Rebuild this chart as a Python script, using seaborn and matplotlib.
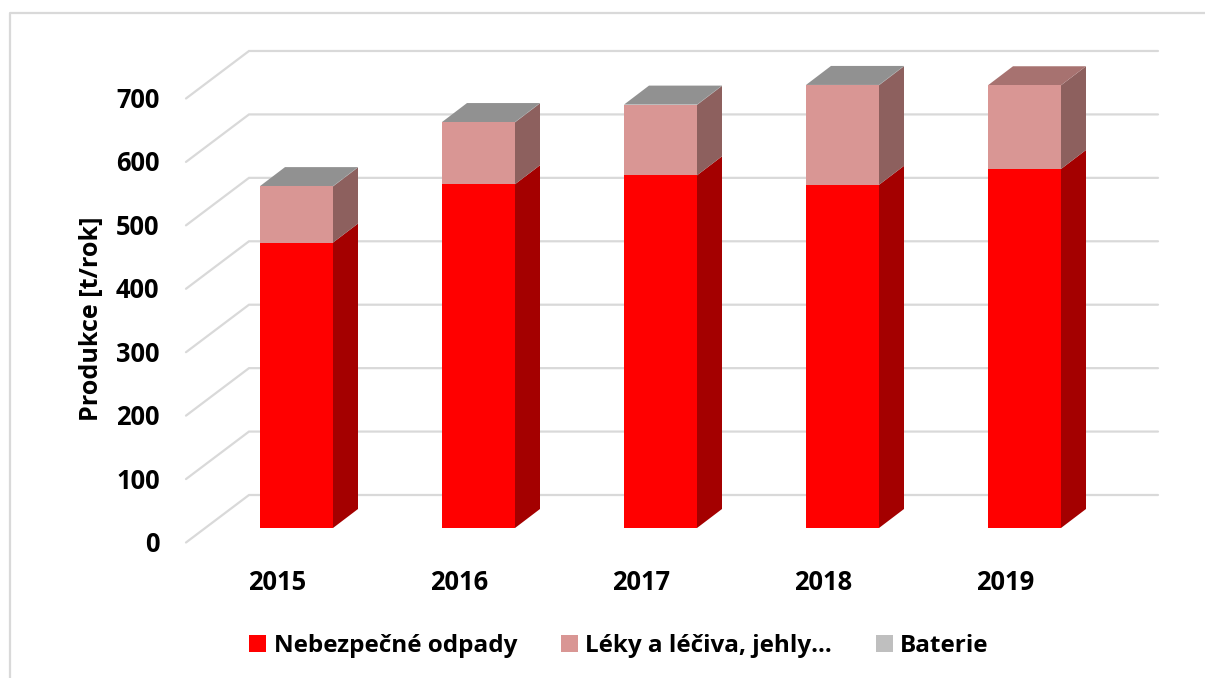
import numpy as np
import matplotlib
matplotlib.use('Agg')
import matplotlib.pyplot as plt
from matplotlib.lines import Line2D
from matplotlib.transforms import ScaledTranslation
import seaborn as sns

sns.set_style('white')
plt.rcParams['font.family'] = ['Open Sans', 'DejaVu Sans']
plt.rcParams['font.weight'] = 'bold'

years = ['2015', '2016', '2017', '2018', '2019']
nebezpecne = [450, 542, 556, 541, 566]
leky = [88.5, 97.5, 111, 157, 132]
baterie = [0.5, 0.5, 0.5, 0.5, 0]
y_ticks = [0, 100, 200, 300, 400, 500, 600, 700]

series_names = ['Nebezpečné odpady', 'Léky a léčiva, jehly…', 'Baterie']
series_values = [nebezpecne, leky, baterie]
front_colors = ['#ff0000', '#d99694', '#bfbfbf']
side_colors = ['#a40000', '#8d605e', '#7f7f7f']
top_colors = ['#c00000', '#a77270', '#919191']

W, H = 1205, 678
PX_X = 182.0     # pixels between categories
PX_Y = 0.6343    # pixels per t/rok
BAR_W = 73 / PX_X
# how far the bars and the wall recede, in data units
bar_dx, bar_dy = 25 / PX_X, 19 / PX_Y
wall_dx, wall_dy = 63 / PX_X, 47.5 / PX_Y
wall_base = 33 / PX_Y

fig = plt.figure(figsize=(W / 100, H / 100), dpi=100)
ax = fig.add_axes([186 / W, (H - 528) / H, (1158 - 186) / W, (528 - 40) / H])

bottoms = np.zeros(len(years))
for k, (name, vals, col) in enumerate(zip(series_names, series_values, front_colors)):
    vals = np.array(vals, dtype=float)
    sns.barplot(x=years, y=vals, bottom=bottoms, color=col, saturation=1, width=BAR_W,
                label=name, ax=ax, linewidth=0, zorder=4, legend=False)
    for i in range(len(years)):
        if vals[i] == 0:
            continue
        xr = i + BAR_W / 2
        b, t = bottoms[i], bottoms[i] + vals[i]
        ax.fill([xr, xr + bar_dx, xr + bar_dx, xr],
                [b, b + bar_dy, t + bar_dy, t],
                color=side_colors[k], lw=0, zorder=3, clip_on=False)
    bottoms = bottoms + vals

# top face takes the colour of the last series that has a value
for i in range(len(years)):
    last = max(k for k in range(3) if series_values[k][i] > 0)
    xl, xr = i - BAR_W / 2, i + BAR_W / 2
    t = bottoms[i]
    ax.fill([xl, xr, xr + bar_dx, xl + bar_dx], [t, t, t + bar_dy, t + bar_dy],
            color=top_colors[last], lw=0, zorder=3, clip_on=False)

# gridlines on the back wall and on the left wall
x_back = (249 - 296.5) / PX_X
x_right = (1158 - 296.5) / PX_X
for v in y_ticks:
    yb = v + wall_base
    ax.plot([x_back - wall_dx, x_back, x_right], [yb - wall_dy, yb, yb],
            color='#d9d9d9', lw=1.6, zorder=1, clip_on=False, solid_joinstyle='miter')

ax.set_xlim((186 - 296.5) / PX_X, x_right)
ax.set_ylim(0, (528 - 40) / PX_Y)
sns.despine(ax=ax, left=True, bottom=True)
ax.grid(False)
ax.patch.set_alpha(0)

ax.set_yticks(y_ticks)
ax.set_yticklabels([str(v) for v in y_ticks])
ax.tick_params(axis='y', length=0, pad=19, labelsize=18.4)
ax.tick_params(axis='x', length=0, pad=29.3, labelsize=18.4)
offset = ScaledTranslation(0, -13.5 / 100, fig.dpi_scale_trans)
for lab in ax.get_yticklabels():
    lab.set_transform(lab.get_transform() + offset)
    lab.set_color('black')
for lab in ax.get_xticklabels():
    lab.set_color('black')
    lab.set_transform(lab.get_transform() + ScaledTranslation(-19.5 / 100, 0, fig.dpi_scale_trans))

fig.text(91.5 / W, 1 - 318.5 / H, 'Produkce [t/rok]', rotation=90, ha='center', va='center',
         fontsize=18.1, fontweight='bold', color='black')

handles = [c[0] for c in ax.containers]
leg = fig.legend(handles, series_names, ncol=3, frameon=False, loc='center',
                 bbox_to_anchor=(619 / W, 1 - 646 / H), fontsize=17.5,
                 handlelength=0.7, handleheight=0.7, handletextpad=0.31, columnspacing=1.79)
for txt in leg.get_texts():
    txt.set_color('black')

# chart frame, only the left and top edges are in the picture
frame = dict(color='#d9d9d9', lw=1.6, transform=fig.transFigure)
fig.add_artist(Line2D([10 / W, 10 / W, 1], [0, 1 - 13 / H, 1 - 13 / H], **frame))

fig.savefig('out.png', dpi=100)
